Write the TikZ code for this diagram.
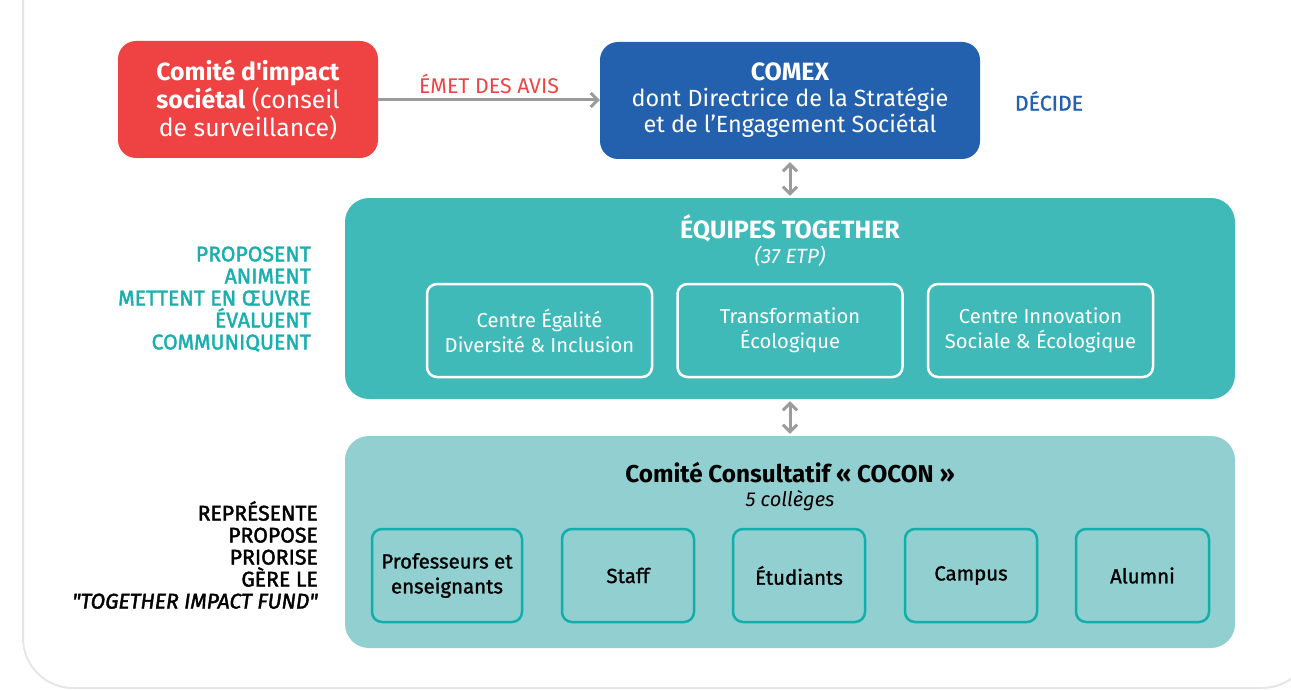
\documentclass[tikz,border=0pt]{standalone}
\usepackage{fontspec}
\setmainfont{Fira Sans}
\newfontfamily\firamed{Fira Sans}[FakeBold=1.2]
\newfontfamily\firalbl{Fira Sans}[FakeBold=2]
\usetikzlibrary{arrows.meta}
\definecolor{cred}{HTML}{EF4343}
\definecolor{cblue}{HTML}{2361AE}
\definecolor{cteal}{HTML}{40BAB9}
\definecolor{clteal}{HTML}{92CFD0}
\definecolor{ctealtxt}{HTML}{1BAEAE}
\definecolor{cborder}{HTML}{12AEAB}
\definecolor{cgray}{HTML}{9B9B9B}
\definecolor{cframe}{HTML}{E6E6E6}
\tikzset{
  mainbox/.style={rounded corners=18pt, inner sep=0pt, align=center, text=white},
  bigbox/.style={rounded corners=24pt, inner sep=0pt},
  wbox/.style={draw=white, line width=2.5pt, rounded corners=10pt, inner sep=0pt, align=center, text=white,
     minimum width=225pt, minimum height=93pt, font=\fontsize{20.2}{25}\selectfont},
  cbox/.style={draw=cborder, fill=clteal, line width=2.5pt, rounded corners=10pt, inner sep=0pt, align=center, text=black,
     minimum height=93pt, font=\firamed\fontsize{20.4}{25}\selectfont},
  garrow/.style={draw=cgray, line width=3pt, -{Straight Barb[length=7pt,width=14pt]}},
  darrow/.style={draw=cgray, line width=3pt, {Straight Barb[length=7pt,width=14pt]}-{Straight Barb[length=7pt,width=14pt]}},
  lbl/.style={inner sep=0pt, align=right, anchor=east, font=\firalbl\fontsize{21.2}{22}\selectfont},
}
\begin{document}
\begin{tikzpicture}[x=1pt,y=-1pt]
\useasboundingbox (0,0) rectangle (1291,690);
\begin{scope}
\clip (0,0) rectangle (1291,690);
\draw[cframe, line width=2pt, rounded corners=50pt] (23,-60) rectangle (1312,688);
\end{scope}

% top row
\node[mainbox, fill=cred, minimum width=260pt, minimum height=117pt, font=\fontsize{24.8}{28}\selectfont] (cis) at (248,99.5)
  {\textbf{Comité d\textquotesingle impact}\\\textbf{sociétal} (conseil\\de surveillance)};
\node[mainbox, fill=cblue, minimum width=380pt, minimum height=117pt, font=\fontsize{23.4}{26}\selectfont] (comex) at (790,100.5)
  {{\fontsize{25}{26}\selectfont\textbf{COMEX}}\\dont Directrice de la Stratégie\\et de l’Engagement Sociétal};
\node[text=cblue, inner sep=0pt, font=\firamed\fontsize{21.3}{22}\selectfont] (decide) at (1049,101) {DÉCIDE};
\draw[garrow] (cis.east |- 0,100) -- node[midway, above=5pt, text=cred, inner sep=0pt, font=\fontsize{21.3}{22}\selectfont] (emet) {ÉMET DES AVIS} (comex.west |- 0,100);

% equipes
\node[bigbox, fill=cteal, minimum width=890pt, minimum height=201pt] (equipes) at (790,298.5) {};
\node[text=white, inner sep=0pt, font=\fontsize{25}{26}\selectfont\bfseries] (eqt) at (790,228) {ÉQUIPES TOGETHER};
\node[text=white, inner sep=0pt, font=\fontsize{20.6}{22}\selectfont\itshape] (eqs) at (790,256) {(37 ETP)};
\node[wbox] (c1) at (539.5,330.5) {Centre Égalité\\Diversité \& Inclusion};
\node[wbox] (c2) at (790,330.5) {Transformation\\Écologique};
\node[wbox] (c3) at (1040.5,330.5) {Centre Innovation\\Sociale \& Écologique};
\node[lbl, text=ctealtxt] (lt) at (311,299) {PROPOSENT\\ANIMENT\\METTENT EN ŒUVRE\\ÉVALUENT\\COMMUNIQUENT};

% cocon
\node[bigbox, fill=clteal, minimum width=890pt, minimum height=212pt] (cocon) at (790,542) {};
\node[text=black, inner sep=0pt, font=\fontsize{24.3}{26}\selectfont\bfseries] (cct) at (790,473) {Comité Consultatif « COCON »};
\node[text=black, inner sep=0pt, font=\fontsize{20.1}{22}\selectfont\itshape] (ccs) at (790,501) {5 collèges};
\node[cbox, minimum width=150pt] (k1) at (447,575.5) {Professeurs et\\enseignants};
\node[cbox, minimum width=132pt] (k2) at (628,575.5) {Staff};
\node[cbox, minimum width=132pt] (k3) at (799,575.5) {Étudiants};
\node[cbox, minimum width=132pt] (k4) at (971,575.5) {Campus};
\node[cbox, minimum width=133pt] (k5) at (1142.5,575.5) {Alumni};
\node[lbl, text=black] (lb) at (318,555) {REPRÉSENTE\\PROPOSE\\PRIORISE\\GÈRE LE\\\textit{\textquotedbl TOGETHER IMPACT FUND\textquotedbl}};

% double arrows
\draw[darrow, shorten <=3pt, shorten >=2pt] (comex) -- (equipes);
\draw[darrow, shorten <=2pt, shorten >=2pt] (equipes) -- (cocon);
\end{tikzpicture}
\end{document}
